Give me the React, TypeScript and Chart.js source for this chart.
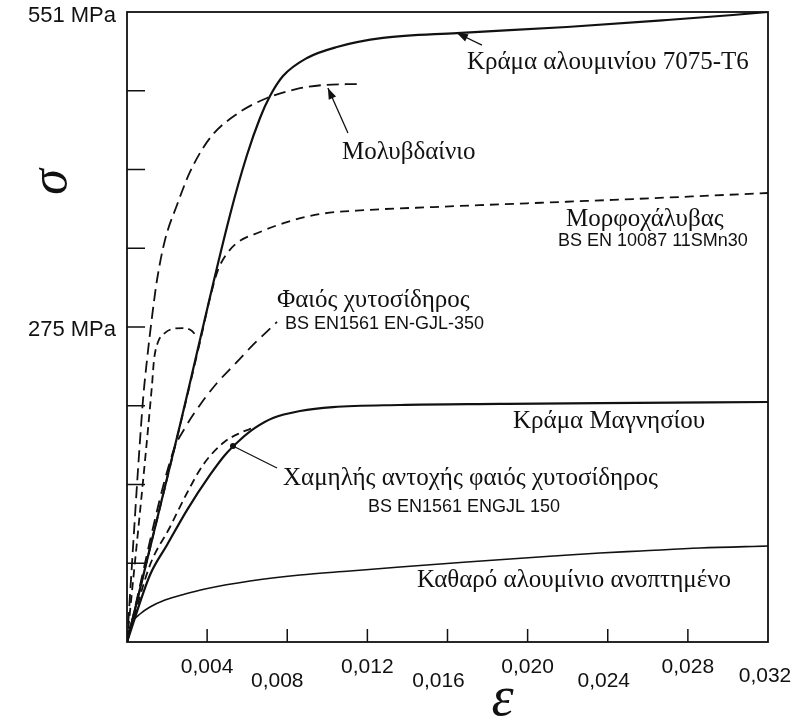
import React, { useEffect, useRef } from 'react';
import { Chart, registerables } from 'chart.js';

Chart.register(...registerables);

// ---------- DATA (strain ε, stress σ in MPa) ----------
const strain7075 = [0, 0.002646, 0.005142, 0.00599, 0.00664, 0.007139, 0.007788, 0.008986, 0.01048, 0.01278, 0.01647, 0.02196, 0.02696, 0.03025, 0.032];
const stress7075 = [0, 189.8, 373.5, 425.9, 458.3, 477.5, 495.0, 510.8, 520.4, 528.3, 532.6, 537.9, 544.0, 548.4, 551];

const strainMo = [0, 0.000799, 0.000998, 0.001248, 0.001498, 0.001897, 0.002496, 0.003145, 0.004143, 0.005491, 0.00699, 0.008488, 0.009784, 0.01153];
const stressMo = [0, 211.7, 246.6, 284.2, 316.6, 351.6, 382.2, 411.1, 440.8, 461.8, 475.8, 483.7, 487.1, 488.0];

const strainHook = [0, 0.001248, 0.001348, 0.001548, 0.001897, 0.002246, 0.002796, 0.003245, 0.003494];
const stressHook = [0, 224.8, 246.6, 262.4, 270.3, 273.7, 274.6, 272.0, 266.8];

const strainSteel = [0, 0.003644, 0.004143, 0.004543, 0.004942, 0.005491, 0.00664, 0.007987, 0.009635, 0.01198, 0.01528, 0.02027, 0.02526, 0.032];
const stressSteel = [0, 262.4, 300.9, 325.4, 338.5, 349.0, 358.6, 367.3, 374.3, 377.8, 380.4, 383.9, 387.4, 392.7];

const strainGrayIron = [0, 0.002296, 0.002895, 0.003644, 0.004493, 0.005391, 0.00629, 0.007488];
const stressGrayIron = [0, 166.2, 187.2, 207.3, 226.5, 243.1, 259.8, 279.9];

const strainMg = [0, 0.001148, 0.001997, 0.002995, 0.004143, 0.004892, 0.005641, 0.00639, 0.007288, 0.008636, 0.01028, 0.01363, 0.01862, 0.02361, 0.032];
const stressMg = [0, 58.6, 84.8, 115.4, 146.1, 163.6, 176.7, 187.2, 195.9, 202.0, 205.5, 207.3, 208.2, 209.0, 209.9];

const strainLowIron = [0, 0.001148, 0.002147, 0.002995, 0.003794, 0.004792, 0.005641, 0.00629];
const stressLowIron = [0, 67.3, 100.6, 130.3, 154.8, 174.0, 182.8, 187.2];

const strainPureAl = [0, 0.0000998, 0.0002995, 0.000649, 0.001148, 0.001897, 0.002895, 0.003894, 0.00614, 0.008636, 0.01113, 0.01363, 0.01697, 0.02132, 0.02361, 0.02566, 0.0286, 0.032];
const stressPureAl = [0, 10.5, 18.4, 24.5, 30.6, 36.7, 42.0, 46.4, 53.4, 58.6, 62.1, 65.6, 70.0, 75.2, 77.8, 79.6, 82.2, 84.0];

const xTickValues = [0, 0.004, 0.008, 0.012, 0.016, 0.02, 0.024, 0.028, 0.032];
const xTickLabels = ['', '0,004', '0,008', '0,012', '0,016', '0,020', '0,024', '0,028', '0,032'];
const yTickValues = [0, 68.875, 137.75, 206.625, 275.5, 344.375, 413.25, 482.125, 551];
const yTickLabels = ['', '', '', '', '275 MPa', '', '', '', '551 MPa'];

// ---------- STYLE / ANNOTATIONS ----------
const SERIF = '"Liberation Serif", "Times New Roman", serif';
const SANS = '"Liberation Sans", Arial, sans-serif';
const INK = '#111';

// per-label pixel nudges of the staggered x tick labels (dx, dy from axis line)
const xLabelNudge = [
  [0, 0], [0, 25], [-10, 39], [0, 25], [-9, 39], [0, 25], [-4, 39], [0, 25], [-3, 34],
];
// vertical nudge of y tick labels (px)
const yLabelNudge = [0, 0, 0, 0, 3, 0, 0, 0, 4];

const textNotes = [
  { text: 'Κράμα αλουμινίου 7075-T6', x: 0.01697, y: 507.3, font: `25px ${SERIF}` },
  { text: 'Μολυβδαίνιο', x: 0.01073, y: 428.6, font: `25px ${SERIF}` },
  { text: 'Μορφοχάλυβας', x: 0.02192, y: 370.0, font: `25px ${SERIF}` },
  { text: 'BS EN 10087 11SMn30', x: 0.02152, y: 350.7, font: `18px ${SANS}` },
  { text: 'Φαιός χυτοσίδηρος', x: 0.007488, y: 299.1, font: `25px ${SERIF}` },
  { text: 'BS EN1561 EN-GJL-350', x: 0.007887, y: 278.1, font: `18px ${SANS}` },
  { text: 'Κράμα Μαγνησίου', x: 0.01927, y: 193.3, font: `25px ${SERIF}` },
  { text: 'Χαμηλής αντοχής φαιός χυτοσίδηρος', x: 0.007788, y: 143.4, font: `25px ${SERIF}` },
  { text: 'BS EN1561 ENGJL 150', x: 0.01203, y: 118.1, font: `18px ${SANS}` },
  { text: 'Καθαρό αλουμίνιο ανοπτημένο', x: 0.01448, y: 54.2, font: `25px ${SERIF}` },
];

const arrowNotes = [
  { from: [0.01772, 522.1], to: [0.01647, 532.6], head: 'arrow' },
  { from: [0.01103, 445.2], to: [0.01003, 484.5], head: 'arrow' },
  { from: [0.007488, 152.2], to: [0.005291, 171.4], head: 'dot' },
];

const pts = (xs: number[], ys: number[]) => xs.map((x, i) => ({ x, y: ys[i] }));

const decorPlugin = {
  id: 'decor',
  afterDraw(chart: any) {
    const { ctx, chartArea } = chart;
    const xs = chart.scales.x;
    const ys = chart.scales.y;
    const { left, right, top, bottom } = chartArea;
    ctx.save();
    ctx.strokeStyle = INK;
    ctx.fillStyle = INK;
    // frame
    ctx.lineWidth = 1.8;
    ctx.strokeRect(left, top, right - left, bottom - top);
    // inner ticks
    ctx.lineWidth = 1.5;
    ctx.beginPath();
    xTickValues.forEach((v, i) => {
      if (i === 0 || i === xTickValues.length - 1) return;
      const px = xs.getPixelForValue(v);
      ctx.moveTo(px, bottom);
      ctx.lineTo(px, bottom - 13);
    });
    yTickValues.forEach((v, i) => {
      if (i === 0 || i === yTickValues.length - 1) return;
      const py = ys.getPixelForValue(v);
      ctx.moveTo(left, py);
      ctx.lineTo(left + 18, py);
    });
    ctx.stroke();

    // x tick labels (staggered)
    ctx.font = `21px ${SANS}`;
    ctx.textAlign = 'center';
    ctx.textBaseline = 'middle';
    xTickValues.forEach((v, i) => {
      const lbl = xTickLabels[i];
      if (!lbl) return;
      const [dx, dy] = xLabelNudge[i];
      ctx.fillText(lbl, xs.getPixelForValue(v) + dx, bottom + dy);
    });

    // y tick labels
    ctx.font = `22px ${SANS}`;
    ctx.textAlign = 'right';
    ctx.textBaseline = 'middle';
    yTickValues.forEach((v, i) => {
      const lbl = yTickLabels[i];
      if (!lbl) return;
      ctx.fillText(lbl, left - 11, ys.getPixelForValue(v) + yLabelNudge[i]);
    });

    // arrows
    arrowNotes.forEach((a) => {
      const x1 = xs.getPixelForValue(a.from[0]);
      const y1 = ys.getPixelForValue(a.from[1]);
      const x2 = xs.getPixelForValue(a.to[0]);
      const y2 = ys.getPixelForValue(a.to[1]);
      ctx.lineWidth = 1.3;
      ctx.beginPath();
      ctx.moveTo(x1, y1);
      ctx.lineTo(x2, y2);
      ctx.stroke();
      if (a.head === 'arrow') {
        const ang = Math.atan2(y2 - y1, x2 - x1);
        const L = 11, W = 4;
        ctx.beginPath();
        ctx.moveTo(x2, y2);
        ctx.lineTo(x2 - L * Math.cos(ang) + W * Math.sin(ang), y2 - L * Math.sin(ang) - W * Math.cos(ang));
        ctx.lineTo(x2 - L * Math.cos(ang) - W * Math.sin(ang), y2 - L * Math.sin(ang) + W * Math.cos(ang));
        ctx.closePath();
        ctx.fill();
      } else {
        ctx.beginPath();
        ctx.arc(x2, y2, 3, 0, Math.PI * 2);
        ctx.fill();
      }
    });

    // annotation texts
    ctx.textAlign = 'left';
    ctx.textBaseline = 'middle';
    textNotes.forEach((t) => {
      ctx.font = t.font;
      ctx.fillText(t.text, xs.getPixelForValue(t.x), ys.getPixelForValue(t.y));
    });

    // axis titles
    ctx.save();
    ctx.translate(left - 75, top + 170);
    ctx.rotate(-Math.PI / 2);
    ctx.font = `italic 52px ${SERIF}`;
    ctx.textAlign = 'center';
    ctx.textBaseline = 'middle';
    ctx.fillText('σ', 0, 0);
    ctx.restore();

    ctx.font = `italic 56px ${SERIF}`;
    ctx.textAlign = 'center';
    ctx.textBaseline = 'middle';
    ctx.fillText('ε', (left + right) / 2 + 55, bottom + 58);
    ctx.restore();
  },
};

export default function App() {
  const canvasRef = useRef<HTMLCanvasElement | null>(null);

  useEffect(() => {
    if (!canvasRef.current) return;
    const solid = (label: string, xs: number[], ys: number[], w: number) => ({
      label,
      data: pts(xs, ys),
      borderColor: INK,
      borderWidth: w,
      pointRadius: 0,
      fill: false,
      cubicInterpolationMode: 'monotone' as const,
    });
    const dashed = (label: string, xs: number[], ys: number[], dash: number[]) => ({
      ...solid(label, xs, ys, 1.8),
      borderDash: dash,
    });

    const chart = new Chart(canvasRef.current, {
      type: 'line',
      data: {
        datasets: [
          solid('Κράμα αλουμινίου 7075-T6', strain7075, stress7075, 2.2),
          dashed('Μολυβδαίνιο', strainMo, stressMo, [12, 6]),
          dashed('', strainHook, stressHook, [8, 5]),
          dashed('Μορφοχάλυβας', strainSteel, stressSteel, [9, 6]),
          dashed('Φαιός χυτοσίδηρος', strainGrayIron, stressGrayIron, [12, 7]),
          solid('Κράμα Μαγνησίου', strainMg, stressMg, 2.2),
          dashed('Χαμηλής αντοχής φαιός χυτοσίδηρος', strainLowIron, stressLowIron, [8, 5]),
          solid('Καθαρό αλουμίνιο ανοπτημένο', strainPureAl, stressPureAl, 1.6),
        ],
      },
      options: {
        animation: false,
        responsive: true,
        maintainAspectRatio: false,
        layout: { padding: { left: 0, right: 35, top: 12, bottom: 0 } },
        plugins: { legend: { display: false }, tooltip: { enabled: false } },
        scales: {
          x: {
            type: 'linear',
            min: 0,
            max: 0.032,
            afterBuildTicks: (s: any) => {
              s.ticks = xTickValues.map((v) => ({ value: v }));
            },
            afterFit: (s: any) => {
              s.height = 83;
              s.paddingLeft = 0;
              s.paddingRight = 0;
              s.paddingTop = 0;
              s.paddingBottom = 0;
            },
            grid: { display: false, drawTicks: false },
            border: { display: false },
            ticks: { display: false },
          },
          y: {
            type: 'linear',
            min: 0,
            max: 551,
            afterBuildTicks: (s: any) => {
              s.ticks = yTickValues.map((v) => ({ value: v }));
            },
            afterFit: (s: any) => {
              s.width = 127;
              s.paddingTop = 0;
              s.paddingBottom = 0;
              s.paddingLeft = 0;
              s.paddingRight = 0;
            },
            grid: { display: false, drawTicks: false },
            border: { display: false },
            ticks: { display: false },
          },
        },
      },
      plugins: [decorPlugin],
    });
    return () => chart.destroy();
  }, []);

  return (
    <div style={{ position: 'fixed', left: 0, top: 0, width: 803, height: 725, background: '#fff' }}>
      <canvas ref={canvasRef} />
    </div>
  );
}
